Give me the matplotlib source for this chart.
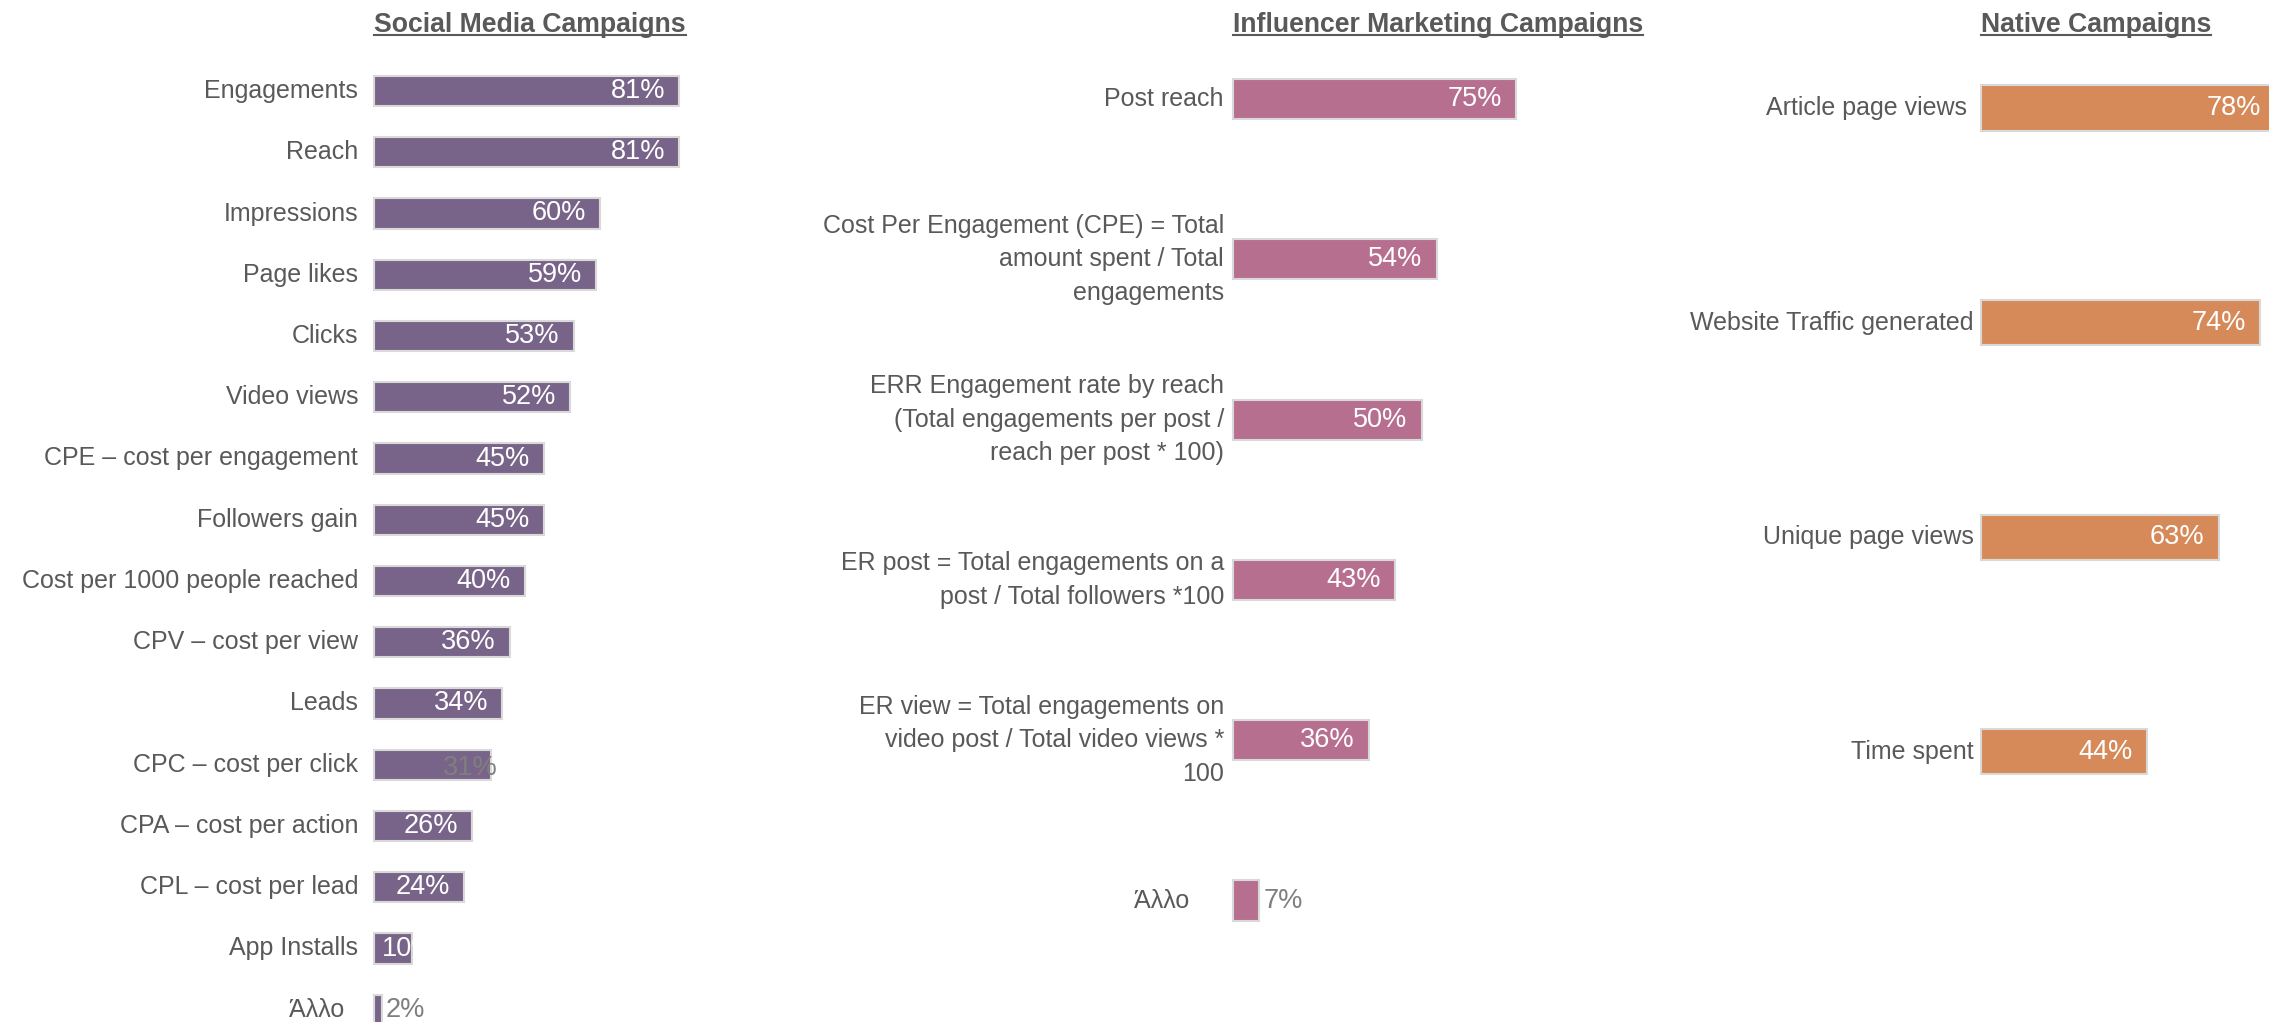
import matplotlib
matplotlib.use("Agg")
import matplotlib.pyplot as plt
from matplotlib import transforms

plt.rcParams["font.family"] = ["Liberation Sans", "DejaVu Sans"]

# ── data ───────────────────────────────────────────────────────────────────
social_labels = ["Engagements", "Reach", "Impressions", "Page likes", "Clicks",
                 "Video views", "CPE – cost per engagement", "Followers gain",
                 "Cost per 1000 people reached", "CPV – cost per view", "Leads",
                 "CPC – cost per click", "CPA – cost per action",
                 "CPL – cost per lead", "App Installs", "Άλλο  "]
social_values = [81, 81, 60, 59, 53, 52, 45, 45, 40, 36, 34, 31, 26, 24, 10, 2]

infl_labels = ["Post reach",
               "Cost Per Engagement (CPE) = Total\namount spent / Total\nengagements",
               "ERR Engagement rate by reach\n(Total engagements per post /\nreach per post * 100)",
               "ER post = Total engagements on a\npost / Total followers *100",
               "ER view = Total engagements on\nvideo post / Total video views *\n100",
               "Άλλο     "]
infl_values = [75, 54, 50, 43, 36, 7]

native_labels = ["Article page views ", "Website Traffic generated",
                 "Unique page views", "Time spent"]
native_values = [78, 74, 63, 44]

# ── layout (pixels) ────────────────────────────────────────────────────────
W, H = 2269, 1022
PX_PER_PCT = 3.77
TEXT = "#595959"
GREY = "#7f7f7f"
EDGE = "#d9d9d9"
LAB_FS = 18
VAL_FS = 19.5

fig = plt.figure(figsize=(W / 100, H / 100), dpi=100)


def shift(ax, dx=0, dy=0):
    return transforms.offset_copy(ax.transData, fig=fig, x=dx, y=dy, units="dots")


def panel(title, labels, values, color, left, first, step, bar_h, pad,
          overflow=()):
    n = len(values)
    top = first - step / 2
    ax = fig.add_axes([left / W, 1 - (top + n * step) / H,
                       100 * PX_PER_PCT / W, n * step / H])
    ax.set_xlim(0, 100)
    ax.set_ylim(n - 0.5, -0.5)
    ax.axis("off")

    bars = ax.barh(range(n), values, height=bar_h, color=color,
                   edgecolor=EDGE, linewidth=1.5, clip_on=False)

    for i, lab in enumerate(labels):
        ax.text(0, i, lab, transform=shift(ax, -pad), ha="right", va="center",
                fontsize=LAB_FS, color=TEXT, linespacing=1.5, clip_on=False)

    for i, (v, b) in enumerate(zip(values, bars)):
        s = f"{v}%"
        if i in overflow:
            # label spills past the end of the bar
            ax.text(v, i, s, transform=shift(ax, 7, -3), ha="right", va="center",
                    fontsize=VAL_FS, color=GREY, clip_on=False)
        elif v <= 7:
            ax.text(v, i, s, transform=shift(ax, 4), ha="left", va="center",
                    fontsize=VAL_FS, color=GREY, clip_on=False)
        elif v <= 12:
            # too narrow for the label: start it inside and clip to the bar
            t = ax.text(0, i, s, transform=shift(ax, 8), ha="left", va="center",
                        fontsize=VAL_FS, color="white")
            t.set_clip_path(b)
        else:
            ax.text(v, i, s, transform=shift(ax, -14), ha="right", va="center",
                    fontsize=VAL_FS, color="white", clip_on=False)

    t = fig.text(left / W, 1 - 32 / H, title, ha="left", va="baseline",
                 fontsize=19.2, weight="bold", color=TEXT)
    return ax, t


_, t1 = panel("Social Media Campaigns", social_labels, social_values, "#786489",
              left=374, first=91, step=61.25, bar_h=0.49, pad=16,
              overflow=(social_labels.index("CPC – cost per click"),))
_, t2 = panel("Influencer Marketing Campaigns", infl_labels, infl_values, "#b76f8f",
              left=1233, first=99, step=160.3, bar_h=0.25, pad=9)
_, t3 = panel("Native Campaigns", native_labels, native_values, "#d78a59",
              left=1981, first=108, step=214.6, bar_h=0.21, pad=7)

# underline the panel titles
fig.canvas.draw()
for t in (t1, t2, t3):
    bb = t.get_window_extent()
    y = 1 - 35 / H
    fig.add_artist(plt.Line2D([bb.x0 / W, bb.x1 / W], [y, y],
                              transform=fig.transFigure, color=TEXT, lw=1.5))

fig.savefig("out.png", dpi=100)
